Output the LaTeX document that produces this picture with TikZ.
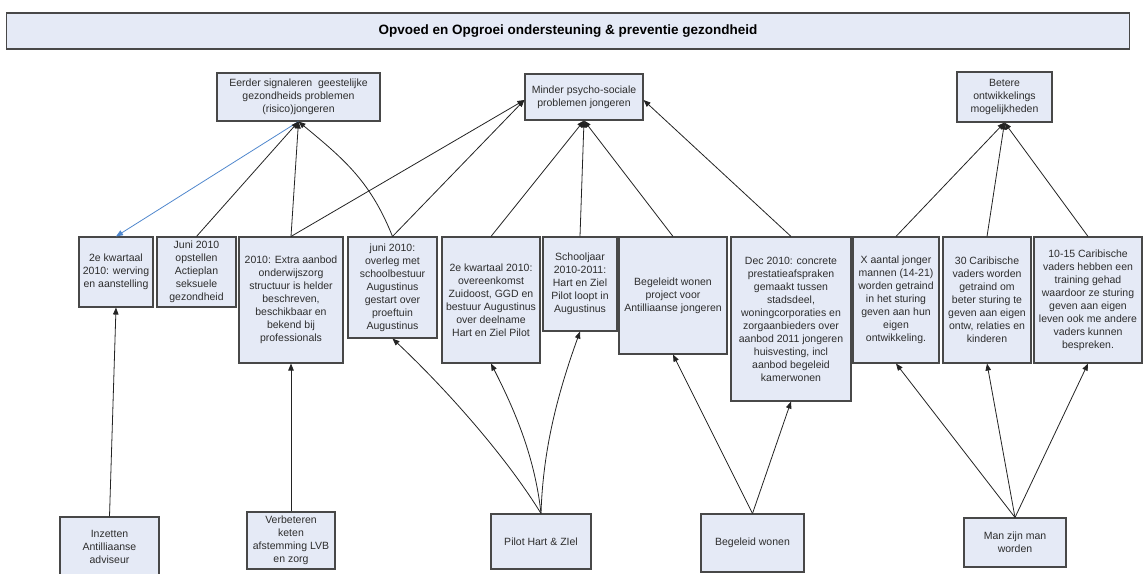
\documentclass[tikz,border=0pt]{standalone}
\usepackage{fontspec}
\setmainfont{Liberation Sans}
\usetikzlibrary{arrows.meta}
\definecolor{boxfill}{RGB}{229,234,246}
\definecolor{boxline}{RGB}{72,72,72}
\definecolor{txt}{RGB}{45,45,45}
\definecolor{linkcol}{RGB}{35,35,35}
\definecolor{linkblue}{RGB}{80,135,205}
\begin{document}
\begin{tikzpicture}[x=1pt,y=-1pt,
  box/.style={draw=boxline, fill=boxfill, line width=1.1pt, inner sep=0pt,
    align=center, text=txt, font=\fontsize{10.5}{13}\selectfont},
  link/.style={draw=linkcol, line width=0.8pt, -{Triangle[length=7pt,width=5.5pt]}},
  bluelink/.style={draw=linkblue, line width=0.8pt, -{Triangle[length=7pt,width=5.5pt]}}]
\useasboundingbox (0,0) rectangle (1145,573);

\node[box, text=black, minimum width=1123pt, minimum height=36pt,
  font=\fontsize{13.5}{16}\selectfont\bfseries] (title) at (568,31)
  {Opvoed en Opgroei ondersteuning \& preventie gezondheid};

\node[box, minimum width=163pt, minimum height=48pt] (A) at (298.5,97)
  {Eerder signaleren~ geestelijke\\gezondheids problemen\\(risico)jongeren};
\node[box, minimum width=118pt, minimum height=46pt] (B) at (584,97)
  {Minder psycho-sociale\\problemen jongeren};
\node[box, minimum width=95pt, minimum height=50pt] (C) at (1004.5,97)
  {Betere\\ontwikkelings\\mogelijkheden};

\node[box, minimum width=74pt, minimum height=70pt] (n1) at (116,272)
  {2e kwartaal\\2010: werving\\en aanstelling};
\node[box, minimum width=79pt, minimum height=70pt] (n2) at (196.5,272)
  {Juni 2010\\opstellen\\Actieplan\\seksuele\\gezondheid};
\node[box, minimum width=104pt, minimum height=126pt] (n3) at (291,300)
  {2010: Extra aanbod\\onderwijszorg\\structuur is helder\\beschreven,\\beschikbaar en\\bekend bij\\professionals};
\node[box, minimum width=89pt, minimum height=101pt] (n4) at (392.5,287.5)
  {juni 2010:\\overleg met\\schoolbestuur\\Augustinus\\gestart over\\proeftuin\\Augustinus};
\node[box, minimum width=98pt, minimum height=126pt] (n5) at (491,300)
  {2e kwartaal 2010:\\overeenkomst\\Zuidoost, GGD en\\bestuur Augustinus\\over deelname\\Hart en Ziel Pilot};
\node[box, minimum width=74pt, minimum height=94pt] (n6) at (580,284)
  {Schooljaar\\2010-2011:\\Hart en Ziel\\Pilot loopt in\\Augustinus};
\node[box, minimum width=108pt, minimum height=117pt] (n7) at (673,295.5)
  {Begeleidt wonen\\project voor\\Antilliaanse jongeren};
\node[box, minimum width=120pt, minimum height=164pt] (n8) at (791,319)
  {Dec 2010: concrete\\prestatieafspraken\\gemaakt tussen\\stadsdeel,\\woningcorporaties en\\zorgaanbieders over\\aanbod 2011 jongeren\\huisvesting, incl\\aanbod begeleid\\kamerwonen};
\node[box, minimum width=86pt, minimum height=126pt] (n9) at (896,300)
  {X aantal jonger\\mannen (14-21)\\worden getraind\\in het sturing\\geven aan hun\\eigen\\ontwikkeling.};
\node[box, minimum width=88pt, minimum height=126pt] (n10) at (987,300)
  {30 Caribische\\vaders worden\\getraind om\\beter sturing te\\geven aan eigen\\ontw, relaties en\\kinderen};
\node[box, minimum width=108pt, minimum height=126pt] (n11) at (1088,300)
  {10-15 Caribische\\vaders hebben een\\training gehad\\waardoor ze sturing\\geven aan eigen\\leven ook me andere\\vaders kunnen\\bespreken.};

\node[box, minimum width=99pt, minimum height=60pt] (b1) at (109.5,547)
  {Inzetten\\Antilliaanse\\adviseur};
\node[box, minimum width=88pt, minimum height=57pt] (b2) at (291,540.5)
  {Verbeteren\\keten\\afstemming LVB\\en zorg};
\node[box, minimum width=100pt, minimum height=55pt] (b3) at (541,541.5)
  {Pilot Hart \& ZIel};
\node[box, minimum width=103pt, minimum height=58pt] (b4) at (752.5,543)
  {Begeleid wonen};
\node[box, minimum width=102pt, minimum height=49pt] (b5) at (1015,542.5)
  {Man zijn man\\worden};

% bottom to middle
\draw[link] (b1.north) -- (n1.south);
\draw[link] (b2.north) -- (n3.south);
\draw[link] (b3.north) .. controls +(-37,-60) and +(51,48) .. (n4.south);
\draw[link] (b3.north) .. controls +(-6,-55) and +(25,49) .. (n5.south);
\draw[link] (b3.north) .. controls +(2,-65) and +(-22,61) .. (n6.south);
\draw[link] (b4.north) -- (n7.south);
\draw[link] (b4.north) -- (n8.south);
\draw[link] (b5.north) -- (n9.south);
\draw[link] (b5.north) -- (n10.south);
\draw[link] (b5.north) -- (n11.south);

% middle to top
\draw[bluelink] (A.south) -- (n1.north);
\draw[link] (n2.north) -- (A.south);
\draw[link] (n3.north) -- (A.south);
\draw[link] (n4.north) .. controls +(-22,-55) and +(46,38) .. (A.south);
\draw[link] (n3.north) -- ([yshift=-3pt]B.west);
\draw[link] (n4.north) -- ([yshift=-3pt]B.west);
\draw[link] (n5.north) -- (B.south);
\draw[link] (n6.north) -- (B.south);
\draw[link] (n7.north) -- (B.south);
\draw[link] (n8.north) -- ([yshift=-3pt]B.east);
\draw[link] (n9.north) -- (C.south);
\draw[link] (n10.north) -- (C.south);
\draw[link] (n11.north) -- (C.south);
\end{tikzpicture}
\end{document}
